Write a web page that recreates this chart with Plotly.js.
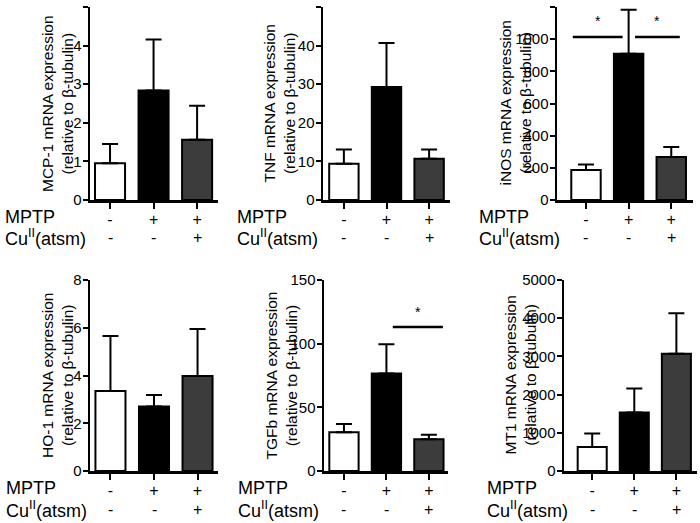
<!DOCTYPE html>
<html>
<head>
<meta charset="utf-8">
<script src="https://cdn.plot.ly/plotly-3.0.1.min.js"></script>
<style>html,body{margin:0;padding:0;background:#fff;}#chart{width:700px;height:523px;}</style>
</head>
<body>
<div id="chart"></div>
<script>
// ---- data ----
const groups = ['Vehicle', 'MPTP', 'MPTP + Cu(atsm)'];
const mptpSigns = ['-', '+', '+'];
const cuSigns = ['-', '-', '+'];
const barColors = ['#ffffff', '#000000', '#3c3c3c'];

const mcp1Mean = [0.95, 2.84, 1.56];
const mcp1Sem  = [0.50, 1.32, 0.88];
const tnfMean  = [9.4, 29.3, 10.7];
const tnfSem   = [3.7, 11.4, 2.4];
const inosMean = [187, 910, 267];
const inosSem  = [34, 273, 62];
const ho1Mean  = [3.35, 2.70, 3.98];
const ho1Sem   = [2.30, 0.48, 1.97];
const tgfbMean = [30.5, 76.5, 24.9];
const tgfbSem  = [6.5, 23.0, 3.6];
const mt1Mean  = [630, 1530, 3070];
const mt1Sem   = [350, 630, 1060];

const genes = ['MCP-1', 'TNF', 'iNOS', 'HO-1', 'TGFb', 'MT1'];
const yMax = [5, 50, 1200, 8, 150, 5000];
const yStep = [1, 10, 200, 2, 50, 1000];

// significance bars: panel index, start, end (category index units), height
const sigPanel = [3, 3, 5];
const sigX0 = [-0.31, 1.15, 1.15];
const sigX1 = [0.86, 2.20, 2.33];
const sigY = [1013, 1013, 113];
const sigStarY = [1110, 1110, 125];

// ---- layout geometry ----
const W = 700, H = 523;
const F = 'Liberation Sans, Arial, Helvetica, sans-serif';
const geo = [
  {x0: 90,  x1: 218, r: [-0.46, 2.48], top: 7,   bot: 200, tx: 57.5, lx: 3},
  {x0: 323, x1: 450, r: [-0.49, 2.49], top: 7,   bot: 200, tx: 279,  lx: 235},
  {x0: 557, x1: 693, r: [-0.68, 2.51], top: 7,   bot: 200, tx: 515,  lx: 477},
  {x0: 90,  x1: 218, r: [-0.47, 2.47], top: 280, bot: 471, tx: 57.5, lx: 4},
  {x0: 324, x1: 448, r: [-0.47, 2.45], top: 280, bot: 471, tx: 281,  lx: 236},
  {x0: 564, x1: 697, r: [-0.67, 2.49], top: 280, bot: 471, tx: 520,  lx: 485}
];
const means = [mcp1Mean, tnfMean, inosMean, ho1Mean, tgfbMean, mt1Mean];
const sems = [mcp1Sem, tnfSem, inosSem, ho1Sem, tgfbSem, mt1Sem];

const data = [];
const layout = {
  width: W, height: H,
  margin: {l: 0, r: 0, t: 0, b: 0},
  paper_bgcolor: '#fff', plot_bgcolor: 'rgba(0,0,0,0)',
  showlegend: false,
  font: {family: F, color: '#000'},
  annotations: [], shapes: []
};

for (let i = 0; i < 6; i++) {
  const n = i === 0 ? '' : String(i + 1);
  const g = geo[i];
  data.push({
    type: 'bar', x: groups, y: means[i],
    xaxis: 'x' + n, yaxis: 'y' + n,
    width: 0.69,
    marker: {color: barColors, line: {color: '#000', width: 2}},
    error_y: {type: 'data', symmetric: false, array: sems[i], arrayminus: [0, 0, 0],
              color: '#000', thickness: 2, width: 8},
    hoverinfo: 'none'
  });
  layout['xaxis' + n] = {
    domain: [g.x0 / W, g.x1 / W], anchor: 'y' + n, type: 'category',
    range: g.r, showline: true, linewidth: 2.5, linecolor: '#000',
    showgrid: false, zeroline: false,
    ticks: 'outside', ticklen: 6, tickwidth: 2, tickcolor: '#000',
    tickvals: groups, ticktext: mptpSigns, ticklabelstandoff: -3,
    tickfont: {family: F, size: 16, color: '#000'}, fixedrange: true
  };
  layout['yaxis' + n] = {
    domain: [(H - g.bot) / H, (H - g.top) / H], anchor: 'x' + n,
    range: [0, yMax[i]], tick0: 0, dtick: yStep[i],
    showline: true, linewidth: 2.5, linecolor: '#000',
    showgrid: false, zeroline: false,
    ticks: 'outside', ticklen: 5, tickwidth: 2, tickcolor: '#000',
    ticklabelstandoff: -2,
    tickfont: {family: F, size: 15, color: '#000'}, fixedrange: true
  };
  // y axis title
  layout.annotations.push({
    xref: 'paper', yref: 'paper', x: g.tx / W, y: (H - (g.top + g.bot) / 2) / H,
    xanchor: 'center', yanchor: 'middle', textangle: -90, showarrow: false,
    text: genes[i] + ' mRNA expression<br>(relative to β-tubulin)',
    font: {family: F, size: 15.5, color: '#000'}
  });
  // row labels
  layout.annotations.push({
    xref: 'paper', yref: 'paper', x: g.lx / W, y: (H - (g.bot + 17)) / H,
    xanchor: 'left', yanchor: 'middle', showarrow: false, text: 'MPTP',
    font: {family: F, size: 18, color: '#000'}
  });
  layout.annotations.push({
    xref: 'paper', yref: 'paper', x: g.lx / W, y: (H - (g.bot + 38)) / H,
    xanchor: 'left', yanchor: 'middle', showarrow: false, text: 'Cu<sup>II</sup>(atsm)',
    font: {family: F, size: 18, color: '#000'}
  });
  for (let k = 0; k < 3; k++) {
    layout.annotations.push({
      xref: 'x' + n, yref: 'paper', x: groups[k], y: (H - (g.bot + 38)) / H,
      xanchor: 'center', yanchor: 'middle', showarrow: false, text: cuSigns[k],
      font: {family: F, size: 16, color: '#000'}
    });
  }
}

for (let s = 0; s < sigPanel.length; s++) {
  const n = String(sigPanel[s]);
  layout.shapes.push({
    type: 'line', xref: 'x' + n, yref: 'y' + n,
    x0: sigX0[s], x1: sigX1[s], y0: sigY[s], y1: sigY[s],
    line: {color: '#000', width: 2.5}
  });
  layout.annotations.push({
    xref: 'x' + n, yref: 'y' + n, x: (sigX0[s] + sigX1[s]) / 2, y: sigStarY[s],
    xanchor: 'center', yanchor: 'middle', showarrow: false, text: '*',
    font: {family: F, size: 14, color: '#000'}
  });
}

Plotly.newPlot('chart', data, layout, {displayModeBar: false, staticPlot: true});
</script>
</body>
</html>
